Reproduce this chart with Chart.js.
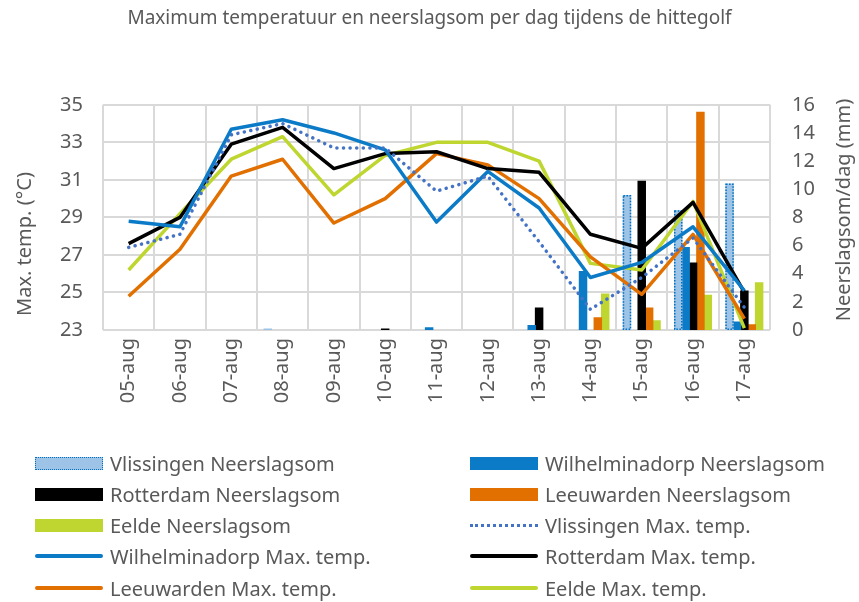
<!DOCTYPE html>
<html>
<head>
<meta charset="utf-8">
<script src="https://cdn.jsdelivr.net/npm/chart.js@4.4.1/dist/chart.umd.min.js"></script>
<style>
  body { margin: 0; background: #fff; }
  #wrap { position: relative; width: 859px; height: 602px; }
  #legend { position: absolute; left: 0; top: 0; width: 859px; height: 602px; pointer-events: none;
            font-family: "Noto Sans", sans-serif; font-size: 20px; color: #595959; }
  .item { position: absolute; height: 26px; display: flex; align-items: center; white-space: nowrap; }
  .sw { width: 68px; margin-right: 7px; box-sizing: border-box; }
</style>
</head>
<body>
<div id="wrap">
  <canvas id="c" width="859" height="602"></canvas>
  <div id="legend"></div>
</div>
<script>
const dates = ['05-aug','06-aug','07-aug','08-aug','09-aug','10-aug','11-aug','12-aug','13-aug','14-aug','15-aug','16-aug','17-aug'];

// neerslagsom per dag (mm)
const vlisRain = [0, 0, 0, 0.1, 0, 0, 0, 0, 0, 0, 9.6, 8.5, 10.4];
const wilhRain = [0, 0, 0, 0, 0, 0, 0.2, 0, 0.35, 4.2, 0, 5.9, 0.6];
const rotRain  = [0, 0, 0, 0, 0, 0.1, 0, 0, 1.6, 0, 10.6, 4.8, 2.8];
const leeuRain = [0, 0, 0, 0, 0, 0, 0, 0, 0, 0.9, 1.6, 15.5, 0.4];
const eeldRain = [0, 0, 0, 0, 0, 0, 0, 0, 0, 2.6, 0.7, 2.5, 3.4];

// max temp (graden C)
const vlisTemp = [27.4, 28.1, 33.4, 34.0, 32.7, 32.7, 30.4, 31.2, 27.7, 24.1, 25.8, 27.9, 24.2];
const wilhTemp = [28.8, 28.5, 33.7, 34.2, 33.5, 32.6, 28.75, 31.45, 29.5, 25.8, 26.6, 28.5, 25.1];
const rotTemp  = [27.6, 29.0, 32.9, 33.8, 31.6, 32.4, 32.5, 31.6, 31.4, 28.1, 27.35, 29.8, 25.0];
const leeuTemp = [24.8, 27.3, 31.2, 32.1, 28.7, 30.0, 32.4, 31.8, 30.0, 26.9, 24.9, 28.1, 23.6];
const eeldTemp = [26.2, 29.2, 32.1, 33.3, 30.2, 32.3, 33.0, 33.0, 32.0, 26.55, 26.2, 29.85, 23.1];

const leftTicks = [23, 25, 27, 29, 31, 33, 35];
const rightTicks = [0, 2, 4, 6, 8, 10, 12, 14, 16];

const BLUE = '#0B7BC7', ORANGE = '#E17000', GREEN = '#BED62F', LIGHT = '#9DC3E6', DOT = '#4472C4';
const gray = '#595959';

function bar(label, data, color) {
  return { type: 'bar', label, data, backgroundColor: color, borderWidth: 0, yAxisID: 'y2', order: 2,
           categoryPercentage: 0.72, barPercentage: 1.15 };
}
function line(label, data, color, dash) {
  return { type: 'line', label, data, borderColor: color, backgroundColor: color, borderWidth: 3.5,
           pointRadius: 0, tension: 0, yAxisID: 'y', order: 1, borderDash: dash || [],
           borderCapStyle: dash ? 'round' : 'butt', borderJoinStyle: 'round' };
}

const datasets = [
  bar('Vlissingen Neerslagsom', vlisRain, LIGHT),
  bar('Wilhelminadorp Neerslagsom', wilhRain, BLUE),
  bar('Rotterdam Neerslagsom', rotRain, '#000000'),
  bar('Leeuwarden Neerslagsom', leeuRain, ORANGE),
  bar('Eelde Neerslagsom', eeldRain, GREEN),
  line('Vlissingen Max. temp.', vlisTemp, DOT, [0.1, 6.5]),
  line('Wilhelminadorp Max. temp.', wilhTemp, BLUE),
  line('Rotterdam Max. temp.', rotTemp, '#000000'),
  line('Leeuwarden Max. temp.', leeuTemp, ORANGE),
  line('Eelde Max. temp.', eeldTemp, GREEN)
];

function sideTitle(ctx, text, x, y) {
  ctx.save();
  ctx.fillStyle = gray;
  ctx.font = '20px "Noto Sans"';
  ctx.textAlign = 'center';
  ctx.textBaseline = 'middle';
  ctx.translate(x, y);
  ctx.rotate(-Math.PI / 2);
  ctx.fillText(text, 0, 0);
  ctx.restore();
}

// dotted border on the Vlissingen bars + axis titles
const extras = {
  id: 'extras',
  afterDatasetDraw(chart, args) {
    if (args.index !== 0) return;
    const ctx = chart.ctx;
    ctx.save();
    ctx.strokeStyle = '#0070C0';
    ctx.lineWidth = 1.5;
    ctx.setLineDash([1.5, 1.5]);
    args.meta.data.forEach(el => {
      const h = el.base - el.y;
      if (h < 2) return;
      ctx.strokeRect(el.x - el.width / 2 + 0.75, el.y + 0.75, el.width - 1.5, h - 1.5);
    });
    ctx.restore();
  },
  afterDraw(chart) {
    sideTitle(chart.ctx, 'Max. temp. (°C)', 25, 244);
    sideTitle(chart.ctx, 'Neerslagsom/dag (mm)', 844, 210);
  }
};

const tickFont = { family: 'Noto Sans', size: 20 };

const chart = new Chart(document.getElementById('c'), {
  data: { labels: dates, datasets: datasets },
  options: {
    responsive: false,
    animation: false,
    layout: { padding: { top: 0, bottom: 192, left: 0, right: 0 } },
    plugins: {
      legend: { display: false },
      tooltip: { enabled: false },
      title: {
        display: true,
        text: 'Maximum temperatuur en neerslagsom per dag tijdens de hittegolf',
        color: gray,
        font: { family: 'Noto Sans', size: 19, weight: 'normal' },
        padding: { top: 7, bottom: 75 }
      }
    },
    scales: {
      x: {
        offset: true,
        grid: { color: '#D9D9D9', lineWidth: 2, offset: true, drawTicks: false },
        border: { display: false },
        ticks: { color: gray, font: tickFont, maxRotation: 90, minRotation: 90, padding: 8 },
        afterFit(s) { s.height = 80; }
      },
      y: {
        position: 'left',
        min: 23, max: 35,
        afterBuildTicks(s) { s.ticks = leftTicks.map(v => ({ value: v })); },
        grid: { color: '#D9D9D9', lineWidth: 2, drawTicks: false },
        border: { display: false },
        ticks: { color: gray, font: tickFont, padding: 20 },
        afterFit(s) { s.width = 103; }
      },
      y2: {
        position: 'right',
        min: 0, max: 16,
        afterBuildTicks(s) { s.ticks = rightTicks.map(v => ({ value: v })); },
        grid: { display: false, drawTicks: false },
        border: { display: false },
        ticks: { color: gray, font: tickFont, padding: 22 },
        afterFit(s) { s.width = 89; }
      }
    }
  },
  plugins: [extras]
});

// legend in two columns, row-major like the original
const legend = document.getElementById('legend');
const rowY = [463, 494, 525, 556, 588];
const colX = [35, 470];
datasets.forEach((ds, i) => {
  const item = document.createElement('div');
  item.className = 'item';
  item.style.left = colX[i % 2] + 'px';
  item.style.top = (rowY[Math.floor(i / 2)] - 13) + 'px';
  const sw = document.createElement('div');
  sw.className = 'sw';
  if (ds.type === 'bar') {
    sw.style.height = '13px';
    sw.style.background = ds.backgroundColor;
    if (i === 0) sw.style.border = '1.5px dotted #0070C0';
  } else if (ds.borderDash.length) {
    sw.style.height = '0px';
    sw.style.borderTop = '3px dotted ' + ds.borderColor;
  } else {
    sw.style.height = '4px';
    sw.style.background = ds.borderColor;
    sw.style.borderRadius = '2px';
  }
  item.appendChild(sw);
  const t = document.createElement('span');
  t.textContent = ds.label;
  item.appendChild(t);
  legend.appendChild(item);
});
</script>
</body>
</html>
